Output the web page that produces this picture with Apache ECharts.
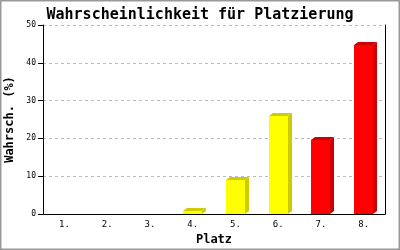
<!DOCTYPE html>
<html><head><meta charset="utf-8">
<script src="https://cdn.jsdelivr.net/npm/echarts@6/dist/echarts.min.js"></script>
<style>html,body{margin:0;padding:0;background:#fff}#c{width:400px;height:250px}</style>
</head><body><div id="c"></div>
<script>
const titleText = "Wahrscheinlichkeit für Platzierung";
const categories = ["1.", "2.", "3.", "4.", "5.", "6.", "7.", "8."];
const values = [0, 0, 0, 0.8, 9.0, 25.9, 19.6, 44.6];
const groups = ["low", "low", "low", "low", "low", "low", "high", "high"];
const yTicks = [0, 10, 20, 30, 40, 50];
const xName = "Platz";
const yName = "Wahrsch. (%)";

const palette = { low: ["#ffff00", "#cccc00"], high: ["#ff0000", "#cc0000"] };
const mono = "DejaVu Sans Mono";

const chart = echarts.init(document.getElementById('c'), null, { renderer: 'canvas' });
chart.setOption({
  animation: false,
  backgroundColor: '#fff',
  title: {
    text: titleText, left: 'center', top: 3,
    textStyle: { fontFamily: mono, fontSize: 15, fontWeight: 'bold', color: '#000' }
  },
  grid: { left: 43, right: 15, top: 25, bottom: 36, containLabel: false, outerBoundsMode: 'none' },
  xAxis: {
    type: 'category', data: categories,
    name: xName, nameLocation: 'middle', nameGap: 18,
    nameTextStyle: { fontFamily: mono, fontSize: 12, fontWeight: 'bold', color: '#000' },
    axisLine: { lineStyle: { color: '#000', width: 1 } },
    axisTick: { show: false },
    axisLabel: { fontFamily: mono, fontSize: 9, color: '#000', margin: 6 },
    splitLine: { show: false }
  },
  yAxis: [{
    type: 'value', min: yTicks[0], max: yTicks[yTicks.length - 1], interval: 10,
    name: yName, nameLocation: 'middle', nameGap: 22,
    nameTextStyle: { fontFamily: mono, fontSize: 12, fontWeight: 'bold', color: '#000' },
    axisLine: { show: true, lineStyle: { color: '#000', width: 1 } },
    axisTick: { show: true, length: 5, lineStyle: { color: '#000' } },
    axisLabel: { fontFamily: mono, fontSize: 8, color: '#000', margin: 7 },
    splitLine: { show: true, lineStyle: { color: '#bbb', type: [3, 3] } }
  }, {
    type: 'value', min: yTicks[0], max: yTicks[yTicks.length - 1], interval: 10, position: 'right',
    axisLine: { show: true, lineStyle: { color: '#000', width: 1 } },
    axisTick: { show: false }, axisLabel: { show: false }, splitLine: { show: false }
  }],
  graphic: [{
    type: 'rect', shape: { x: 0.5, y: 0.5, width: 399, height: 249 },
    style: { fill: null, stroke: '#999', lineWidth: 2 }, silent: true
  }],
  series: [{
    type: 'custom',
    data: values.map((v, i) => [i, v]),
    renderItem: function (params, api) {
      const i = api.value(0), v = api.value(1);
      if (!(v > 0)) return null;
      const top = api.coord([i, v]);
      const base = api.coord([i, 0]);
      const w = 19, dx = 4, dy = -3;
      const x0 = Math.round(top[0] - w / 2), x1 = x0 + w;
      const yt = Math.round(top[1]), yb = Math.round(base[1]);
      const col = palette[groups[i]];
      return {
        type: 'group',
        children: [
          { type: 'polygon', shape: { points: [[x1, yt], [x1 + dx, yt + dy], [x1 + dx, yb + dy], [x1, yb]] }, style: { fill: col[1] } },
          { type: 'polygon', shape: { points: [[x0, yt], [x0 + dx, yt + dy], [x1 + dx, yt + dy], [x1, yt]] }, style: { fill: col[1] } },
          { type: 'rect', shape: { x: x0, y: yt, width: w, height: yb - yt }, style: { fill: col[0] } }
        ]
      };
    }
  }]
});
</script></body></html>
